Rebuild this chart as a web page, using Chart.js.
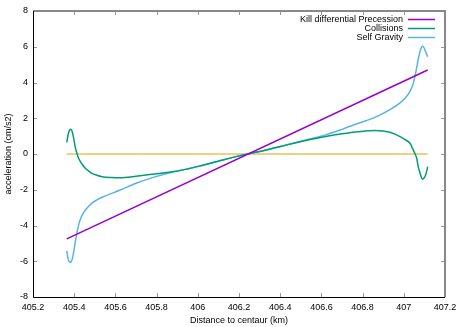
<!DOCTYPE html>
<html>
<head>
<meta charset="utf-8">
<script src="https://cdn.jsdelivr.net/npm/chart.js@4.4.0/dist/chart.umd.min.js"></script>
<style>
  body { margin: 0; background: #fff; }
  #chart { display: block; }
</style>
</head>
<body>
<canvas id="chart" width="467" height="327"></canvas>
<script>
// distance to centaur (km), sampled closer together near the two edges
const distance = [
    405.364, 405.370, 405.377, 405.384, 405.391, 405.398, 405.405, 405.414,
    405.422, 405.430, 405.442, 405.454, 405.470, 405.486, 405.510, 405.535,
    405.583, 405.620, 405.700, 405.780, 405.860, 405.940, 406.020, 406.100,
    406.180, 406.240,
    406.300, 406.380, 406.460, 406.540, 406.620, 406.700, 406.780, 406.860,
    406.933, 406.982, 407.006, 407.030, 407.046, 407.054, 407.063, 407.070,
    407.079, 407.086, 407.092, 407.099, 407.106, 407.116
];
const collisions = [
    0.65, 1.05, 1.32, 1.38, 1.22, 0.85, 0.38, 0.00,
    -0.25, -0.43, -0.63, -0.80, -0.95, -1.08, -1.19, -1.27,
    -1.32, -1.33, -1.25, -1.13, -1.02, -0.86, -0.64, -0.40,
    -0.16, 0.00,
    0.14, 0.36, 0.58, 0.80, 0.98, 1.13, 1.25, 1.32,
    1.22, 0.97, 0.80, 0.60, 0.22, 0.02, -0.25, -0.71,
    -1.08, -1.32, -1.41, -1.33, -1.18, -0.71
];
const selfGravity = [
    -5.42, -5.85, -6.03, -6.06, -5.85, -5.45, -4.95, -4.35,
    -3.95, -3.65, -3.35, -3.13, -2.93, -2.75, -2.57, -2.42,
    -2.20, -2.03, -1.64, -1.32, -1.06, -0.86, -0.65, -0.40,
    -0.16, 0.00,
    0.14, 0.36, 0.60, 0.83, 1.07, 1.38, 1.72, 2.05,
    2.48, 2.86, 3.12, 3.50, 3.95, 4.35, 4.85, 5.30,
    5.75, 5.97, 6.03, 5.93, 5.72, 5.44
];
// precession is a straight line: end points only
const precessionX = [405.364, 407.116];
const precessionY = [-4.75, 4.70];
const zeroX = [405.364, 407.116];
const zeroY = [0, 0];

const xTicks = [405.2, 405.4, 405.6, 405.8, 406, 406.2, 406.4, 406.6, 406.8, 407, 407.2];
const yTicks = [-8, -6, -4, -2, 0, 2, 4, 6, 8];

const FONT = '"Liberation Sans", Arial, sans-serif';

function pairs(xs, ys) {
    return xs.map((x, i) => ({ x: x, y: ys[i] }));
}

// gnuplot style key: label right aligned, line sample after it
const keyPlugin = {
    id: 'key',
    afterDraw(chart) {
        const ctx = chart.ctx;
        const a = chart.chartArea;
        ctx.save();
        ctx.font = '9px ' + FONT;
        ctx.textAlign = 'right';
        ctx.textBaseline = 'middle';
        let y = a.top + 8.5;
        chart.data.datasets.forEach(ds => {
            if (!ds.label) return;
            ctx.fillStyle = '#000';
            ctx.fillText(ds.label, a.right - 42, y);
            ctx.strokeStyle = ds.borderColor;
            ctx.lineWidth = 1.5;
            ctx.beginPath();
            ctx.moveTo(a.right - 37, y);
            ctx.lineTo(a.right - 10, y);
            ctx.stroke();
            y += 9;
        });
        ctx.restore();
    }
};

// inward ticks on all four sides plus the border
const framePlugin = {
    id: 'frame',
    afterDatasetsDraw(chart) {
        const { ctx, chartArea: a, scales: { x, y } } = chart;
        ctx.save();
        ctx.strokeStyle = '#999';
        ctx.lineWidth = 1;
        ctx.beginPath();
        x.ticks.forEach(t => {
            const px = Math.round(x.getPixelForValue(t.value)) + 0.5;
            ctx.moveTo(px, a.bottom); ctx.lineTo(px, a.bottom - 4);
            ctx.moveTo(px, a.top); ctx.lineTo(px, a.top + 4);
        });
        y.ticks.forEach(t => {
            const py = Math.round(y.getPixelForValue(t.value)) + 0.5;
            ctx.moveTo(a.left, py); ctx.lineTo(a.left + 4, py);
            ctx.moveTo(a.right, py); ctx.lineTo(a.right - 4, py);
        });
        ctx.stroke();

        ctx.strokeStyle = '#888';
        ctx.lineWidth = 2;
        ctx.beginPath();
        ctx.moveTo(a.left, a.top); ctx.lineTo(a.right, a.top); ctx.lineTo(a.right, a.bottom);
        ctx.stroke();

        ctx.strokeStyle = '#000';
        ctx.lineWidth = 1;
        ctx.beginPath();
        ctx.moveTo(a.left + 0.5, a.top); ctx.lineTo(a.left + 0.5, a.bottom + 0.5); ctx.lineTo(a.right, a.bottom + 0.5);
        ctx.stroke();
        ctx.restore();
    }
};

Chart.defaults.font.family = FONT;
Chart.defaults.font.size = 9;
Chart.defaults.color = '#000';

const ctx = document.getElementById('chart').getContext('2d');
const chart = new Chart(ctx, {
    type: 'line',
    data: {
        datasets: [
            {
                label: 'Kill differential Precession',
                data: pairs(precessionX, precessionY),
                borderColor: '#9400D3',
                borderWidth: 1.5
            },
            {
                label: 'Collisions',
                data: pairs(distance, collisions),
                borderColor: '#009E73',
                borderWidth: 1.5,
                cubicInterpolationMode: 'monotone'
            },
            {
                label: 'Self Gravity',
                data: pairs(distance, selfGravity),
                borderColor: '#56B4E9',
                borderWidth: 1.5,
                cubicInterpolationMode: 'monotone'
            },
            {
                label: '',
                data: pairs(zeroX, zeroY),
                borderColor: '#E69F00',
                borderWidth: 1
            }
        ]
    },
    options: {
        responsive: false,
        animation: false,
        devicePixelRatio: 1,
        elements: { point: { radius: 0 } },
        layout: { padding: { left: 0, top: 11, right: 22, bottom: 0 } },
        plugins: {
            legend: { display: false },
            tooltip: { enabled: false }
        },
        scales: {
            x: {
                type: 'linear',
                min: 405.2,
                max: 407.2,
                afterBuildTicks: s => { s.ticks = xTicks.map(v => ({ value: v })); },
                afterFit: s => { s.height = 30; },
                grid: { display: false, drawTicks: false },
                border: { display: false },
                ticks: {
                    padding: 5,
                    maxRotation: 0,
                    callback: v => String(Number(v.toFixed(1)))
                },
                title: {
                    display: true,
                    text: 'Distance to centaur (km)',
                    padding: { top: 0, bottom: 1 }
                }
            },
            y: {
                type: 'linear',
                min: -8,
                max: 8,
                afterBuildTicks: s => { s.ticks = yTicks.map(v => ({ value: v })); },
                afterFit: s => { s.width = 33; },
                grid: { display: false, drawTicks: false },
                border: { display: false },
                ticks: { padding: 5 },
                title: {
                    display: true,
                    text: 'acceleration (cm/s2)',
                    padding: { top: 3, bottom: 0 }
                }
            }
        }
    },
    plugins: [framePlugin, keyPlugin]
});
</script>
</body>
</html>
